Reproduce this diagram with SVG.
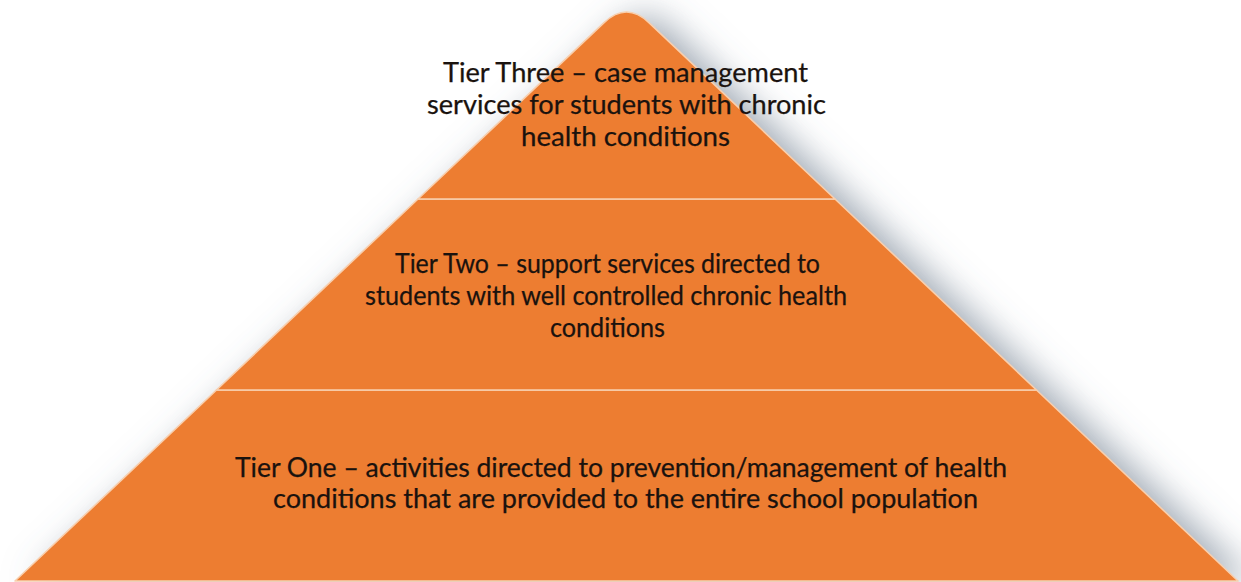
<svg xmlns="http://www.w3.org/2000/svg" width="1241" height="582" viewBox="0 0 1241 582">
  <defs>
    <filter id="shadow" x="-10%" y="-10%" width="130%" height="130%">
      <feGaussianBlur in="SourceAlpha" stdDeviation="18"/>
      <feOffset dx="18" dy="4" result="b"/>
      <feFlood flood-color="#5f6f82" flood-opacity="0.6"/>
      <feComposite in2="b" operator="in"/>
    </filter>
    <style>
      .tier { fill: #ED7D31; stroke: #f8cfae; stroke-width: 1.6; stroke-linejoin: round; }
      .lbl { font-family: Lato, "Open Sans", "Liberation Sans", sans-serif; font-size: 26px; fill: #1a120e; text-anchor: middle; stroke: #1a120e; stroke-width: 0.25; }
    </style>
  </defs>
  <rect width="1241" height="582" fill="#ffffff"/>
  <g id="shadow-layer" filter="url(#shadow)">
    <path d="M 16 580 L 604.1 22.6 Q 626.5 1.4 648.9 22.6 L 1237 580 Z" fill="#000"/>
  </g>
  <g id="tier-one">
    <path class="tier" d="M 15 581 L 216.5 390 L 1036.5 390 L 1238 581 Z"/>
    <text class="lbl" x="621" y="477" textLength="772" lengthAdjust="spacingAndGlyphs">Tier One – activities directed to prevention/management of health</text>
    <text class="lbl" x="625.5" y="508" textLength="705" lengthAdjust="spacingAndGlyphs">conditions that are provided to the entire school population</text>
  </g>
  <g id="tier-two">
    <path class="tier" d="M 216.5 390 L 418 199 L 835 199 L 1036.5 390 Z"/>
    <text class="lbl" x="607.5" y="273" textLength="425" lengthAdjust="spacingAndGlyphs">Tier Two – support services directed to</text>
    <text class="lbl" x="606" y="305" textLength="482" lengthAdjust="spacingAndGlyphs">students with well controlled chronic health</text>
    <text class="lbl" x="607.5" y="337" textLength="115" lengthAdjust="spacingAndGlyphs">conditions</text>
  </g>
  <g id="tier-three">
    <path class="tier" d="M 418 199 L 604.1 22.6 Q 626.5 1.4 648.9 22.6 L 835 199 Z"/>
    <text class="lbl" x="625.5" y="82" textLength="365" lengthAdjust="spacingAndGlyphs">Tier Three – case management</text>
    <text class="lbl" x="626.5" y="114" textLength="399" lengthAdjust="spacingAndGlyphs">services for students with chronic</text>
    <text class="lbl" x="625.5" y="146" textLength="209" lengthAdjust="spacingAndGlyphs">health conditions</text>
  </g>
  <g id="connectors"></g>
</svg>
